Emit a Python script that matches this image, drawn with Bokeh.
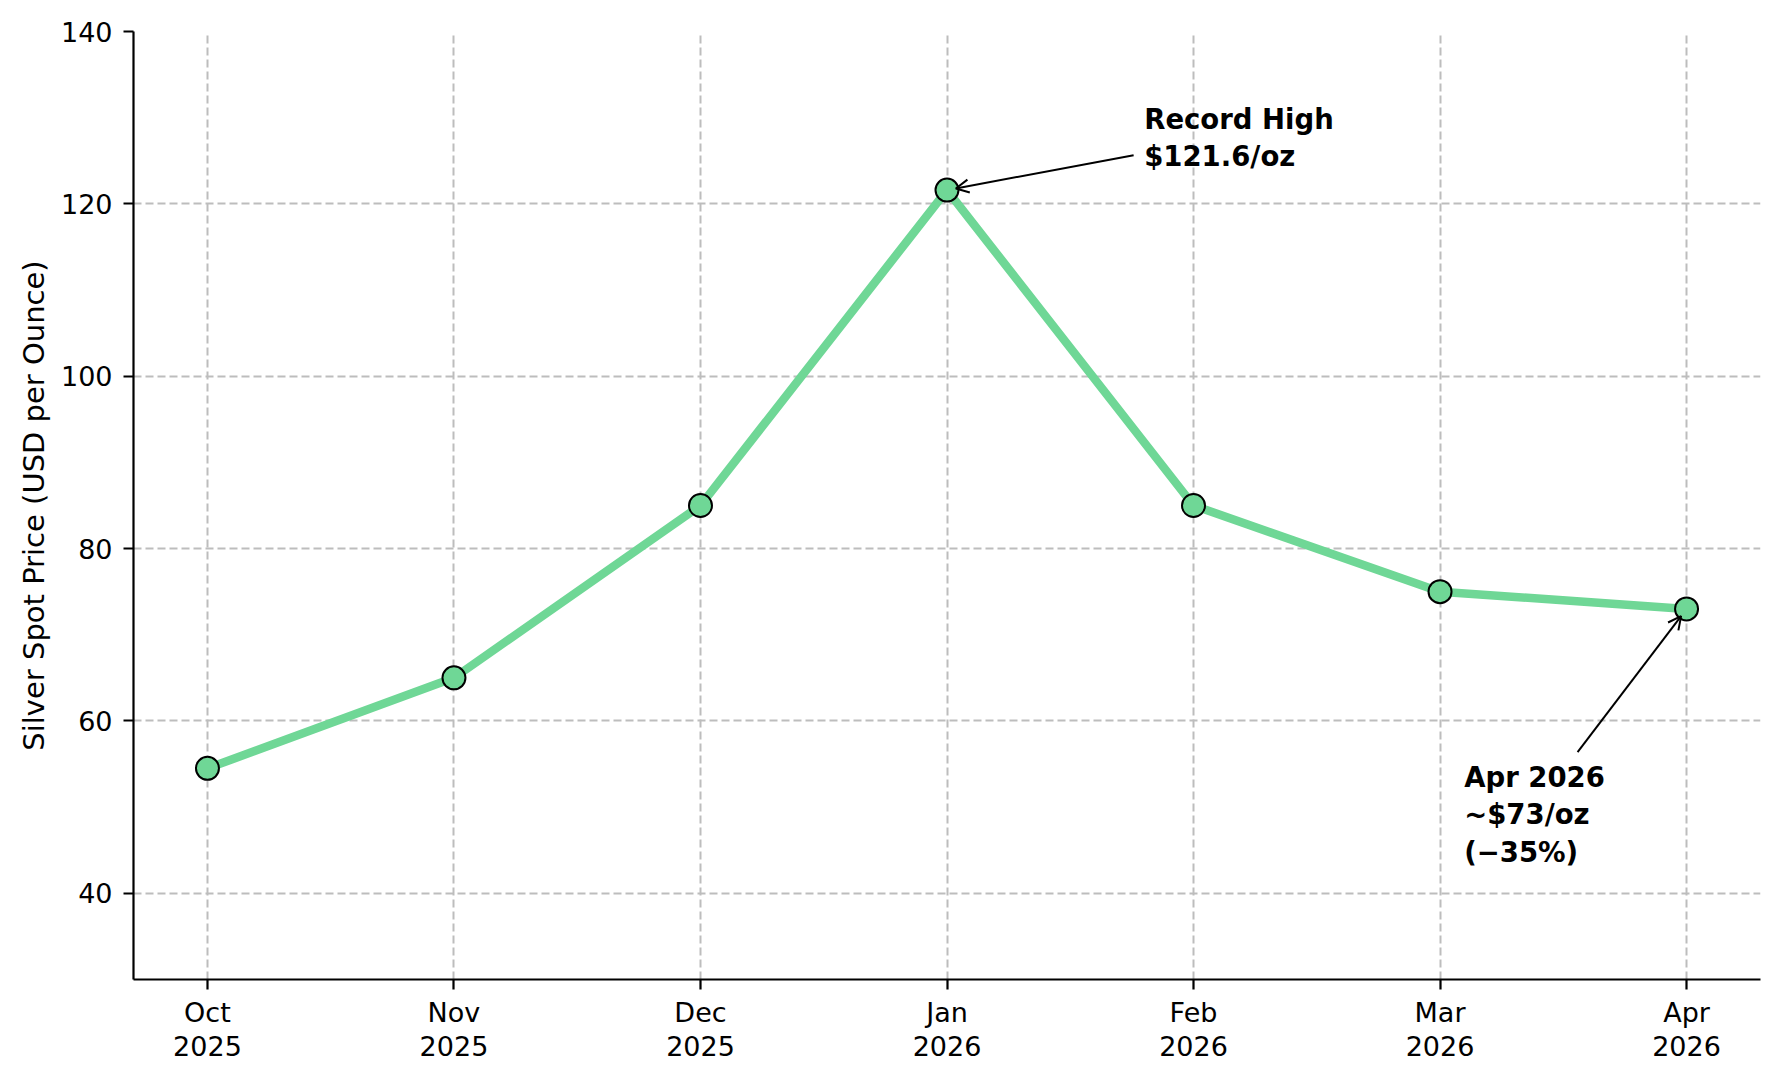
import math
from bokeh.plotting import figure
from bokeh.models import FixedTicker, Range1d, Arrow, OpenHead, ColumnDataSource
from bokeh.embed import file_html
from bokeh.resources import INLINE
from bokeh.core.properties import value

# ---- data ----
months = ["Oct\n2025", "Nov\n2025", "Dec\n2025", "Jan\n2026", "Feb\n2026", "Mar\n2026", "Apr\n2026"]
prices = [54.5, 65.0, 85.0, 121.6, 85.0, 75.0, 73.0]
y_ticks = [40, 60, 80, 100, 120, 140]
peak_label = "Record High\n$121.6/oz"
last_label = "Apr 2026\n~$73/oz\n(\u221235%)"
y_title = "Silver Spot Price (USD per Ounce)"

xs = list(range(len(months)))

# ---- layout ----
FONT = "DejaVu Sans"
FW, FH = 1627, 948
X0, X1 = -0.3, len(months) - 1 + 0.3
Y0, Y1 = 30, 140
px_x = FW / (X1 - X0)
px_y = FH / (Y1 - Y0)

p = figure(frame_width=FW, frame_height=FH,
           min_border_left=133, min_border_right=11, min_border_top=31, min_border_bottom=90,
           x_range=Range1d(X0, X1), y_range=Range1d(Y0, Y1),
           output_backend="svg", toolbar_location=None,
           background_fill_color="white", border_fill_color="white")
p.outline_line_color = None

LINE_COLOR = "#6fd796"

src = ColumnDataSource(dict(x=xs, y=prices))
p.line("x", "y", source=src, line_color=LINE_COLOR, line_width=8.5, line_join="round", line_cap="round")
p.scatter("x", "y", source=src, size=23, fill_color=LINE_COLOR, line_color="black", line_width=2)

# ---- axes ----
for ax in (p.xaxis[0], p.yaxis[0]):
    ax.axis_line_color = "black"
    ax.axis_line_width = 2.2
    ax.major_tick_line_color = "black"
    ax.major_tick_line_width = 2.2
    ax.major_tick_out = 10
    ax.major_tick_in = 0
    ax.minor_tick_line_color = None
    ax.major_label_text_font = FONT
    ax.major_label_text_font_size = "27px"
    ax.major_label_text_color = "black"

p.xaxis.ticker = FixedTicker(ticks=xs)
p.xaxis.major_label_overrides = {i: m for i, m in enumerate(months)}
p.xaxis.major_label_standoff = 7
p.xaxis.major_label_text_line_height = 1.1

p.yaxis.ticker = FixedTicker(ticks=y_ticks)
p.yaxis.major_label_standoff = 11
p.yaxis.axis_label = y_title
p.yaxis.axis_label_text_font = FONT
p.yaxis.axis_label_text_font_size = "29px"
p.yaxis.axis_label_text_font_style = "normal"
p.yaxis.axis_label_text_color = "black"
p.yaxis.axis_label_standoff = 7

for g in (p.xgrid[0], p.ygrid[0]):
    g.grid_line_color = "#bdbdbd"
    g.grid_line_width = 2
    g.grid_line_dash = "8 4"
p.xgrid.ticker = FixedTicker(ticks=xs)
p.ygrid.ticker = FixedTicker(ticks=y_ticks)

# ---- annotations ----
def arrow_to(idx, tail_x, tail_y, shrink_px=9):
    hx, hy = xs[idx], prices[idx]
    dxp = (tail_x - hx) * px_x
    dyp = (tail_y - hy) * px_y
    d = math.hypot(dxp, dyp)
    ex = hx + shrink_px * dxp / d / px_x
    ey = hy + shrink_px * dyp / d / px_y
    p.add_layout(Arrow(end=OpenHead(size=13, line_width=2, line_color="black"),
                       x_start=tail_x, y_start=tail_y, x_end=ex, y_end=ey,
                       line_color="black", line_width=2))

peak_i = prices.index(max(prices))
last_i = len(prices) - 1

arrow_to(peak_i, 3.757, 125.64)
arrow_to(last_i, 5.558, 56.39)

p.text(x=[3.800], y=[131.7], text=[peak_label], text_font=value(FONT), text_font_style="bold",
       text_font_size="27.5px", text_align="left", text_baseline="top", text_line_height=1.15,
       text_color="black")
p.text(x=[5.098], y=[55.35], text=[last_label], text_font=value(FONT), text_font_style="bold",
       text_font_size="27.5px", text_align="left", text_baseline="top", text_line_height=1.17,
       text_color="black")

open("out.html", "w").write(file_html(p, INLINE))
